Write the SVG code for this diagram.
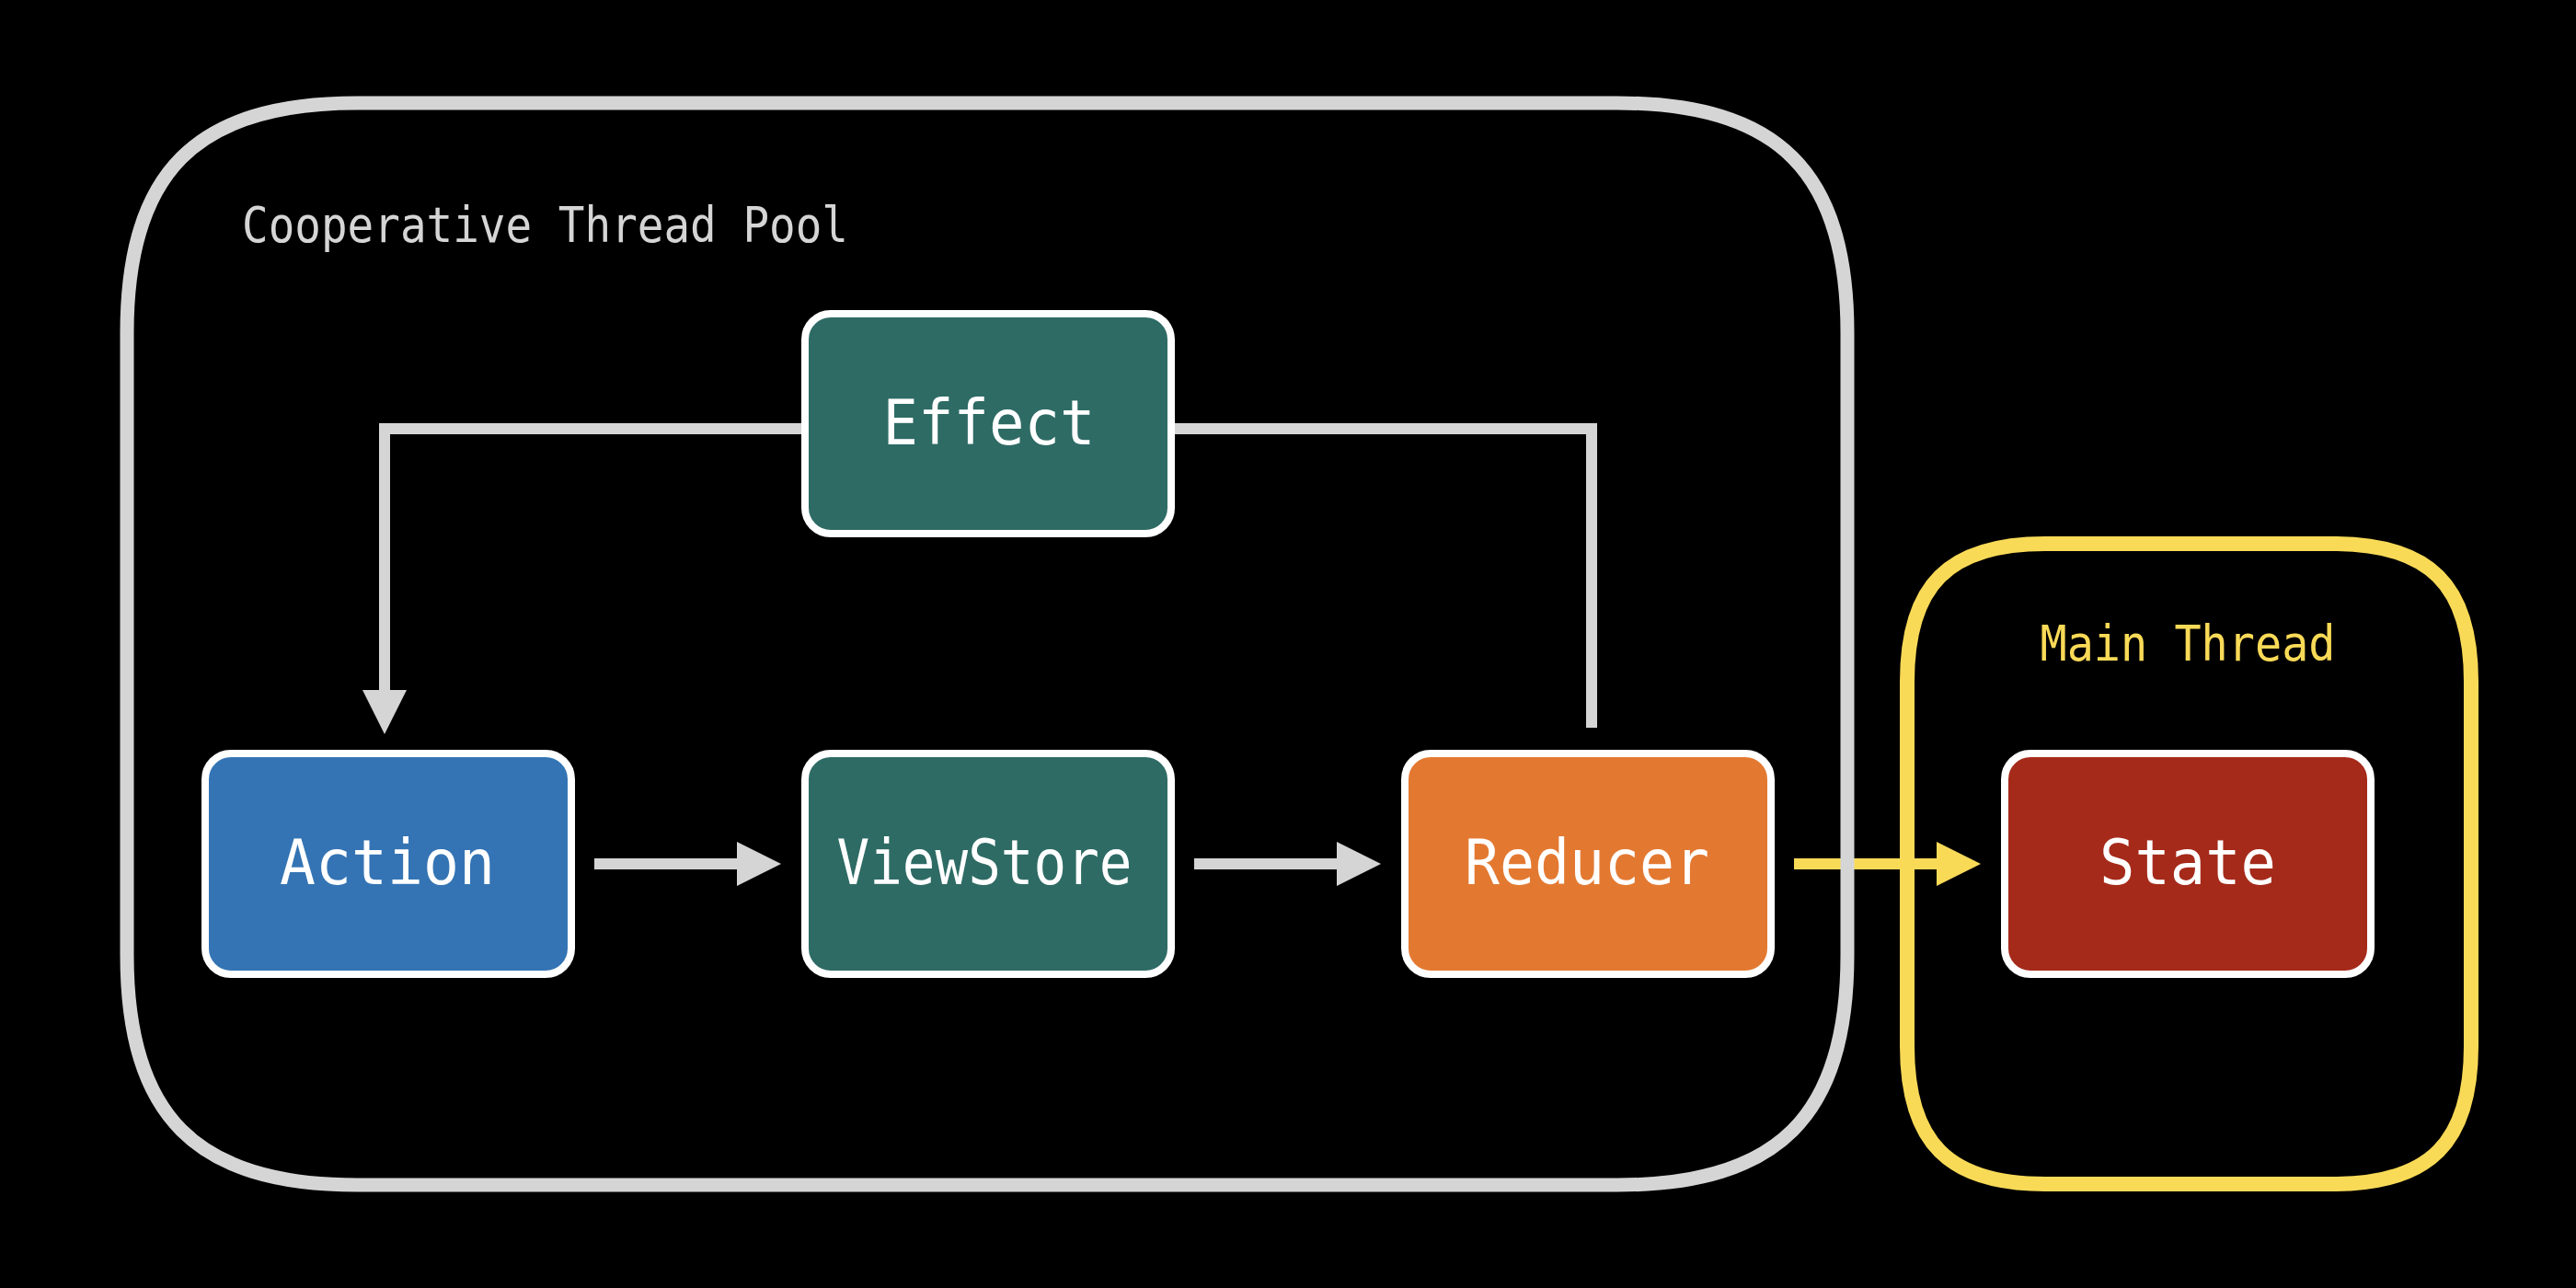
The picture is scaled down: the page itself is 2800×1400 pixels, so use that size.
<svg xmlns="http://www.w3.org/2000/svg" width="2800" height="1400" viewBox="0 0 2800 1400">
  <defs>
    <style>
      .node rect { stroke: #ffffff; stroke-width: 8; }
      .label { font-family: "DejaVu Sans Mono", "Liberation Mono", monospace; font-size: 68px; fill: #ffffff; text-anchor: middle; }
      .title { font-family: "DejaVu Sans Mono", "Liberation Mono", monospace; font-size: 53px; }
      .conn { fill: none; stroke: #d5d5d5; stroke-width: 12; stroke-linejoin: miter; stroke-linecap: butt; }
      .conn-y { fill: none; stroke: #f9da57; stroke-width: 12; stroke-linecap: butt; }
    </style>
    <marker id="arrow-gray" markerUnits="userSpaceOnUse" viewBox="0 0 48 48" refX="2" refY="24" markerWidth="48" markerHeight="48" orient="auto">
      <path d="M0,0 L48,24 L0,48 Z" fill="#d5d5d5"/>
    </marker>
    <marker id="arrow-yellow" markerUnits="userSpaceOnUse" viewBox="0 0 48 48" refX="2" refY="24" markerWidth="48" markerHeight="48" orient="auto">
      <path d="M0,0 L48,24 L0,48 Z" fill="#f9da57"/>
    </marker>
  </defs>
  <rect x="0" y="0" width="2800" height="1400" fill="#000000"/>

  <g id="connectors">
    <path class="conn" d="M875,466 H418 V752" marker-end="url(#arrow-gray)"/>
    <path class="conn" d="M1730,791 V466 H1273"/>
    <path class="conn" d="M646,939 H803" marker-end="url(#arrow-gray)"/>
    <path class="conn" d="M1298,939 H1455" marker-end="url(#arrow-gray)"/>
    <path class="conn-y" d="M1950,939 H2107" marker-end="url(#arrow-yellow)"/>
  </g>

  <g id="cooperative-thread-pool">
    <path d="M138,362 C138,187 213,112 388,112 H1758 C1933,112 2008,187 2008,362 V1038 C2008,1213 1933,1288 1758,1288 H388 C213,1288 138,1213 138,1038 Z" fill="none" stroke="#d5d5d5" stroke-width="15"/>
    <text class="title" x="263" y="263" fill="#d5d5d5" textLength="659" lengthAdjust="spacingAndGlyphs">Cooperative Thread Pool</text>
  </g>

  <g id="main-thread">
    <path d="M2073,741 C2073,636 2118,591 2223,591 H2536 C2641,591 2686,636 2686,741 V1137 C2686,1242 2641,1287 2536,1287 H2223 C2118,1287 2073,1242 2073,1137 Z" fill="none" stroke="#f9da57" stroke-width="16"/>
    <text class="title" x="2378" y="718" fill="#f9da57" text-anchor="middle" textLength="321" lengthAdjust="spacingAndGlyphs">Main Thread</text>
  </g>

  <g id="effect" class="node">
    <rect x="875" y="341" width="398" height="239" rx="28" fill="#2e6b65"/>
    <text class="label" x="1075" y="483" textLength="231" lengthAdjust="spacingAndGlyphs">Effect</text>
  </g>

  <g id="action" class="node">
    <rect x="223" y="819" width="398" height="240" rx="28" fill="#3474b4"/>
    <text class="label" x="421" y="961" textLength="234" lengthAdjust="spacingAndGlyphs">Action</text>
  </g>

  <g id="viewstore" class="node">
    <rect x="875" y="819" width="398" height="240" rx="28" fill="#2e6b65"/>
    <text class="label" x="1070" y="961" textLength="321" lengthAdjust="spacingAndGlyphs">ViewStore</text>
  </g>

  <g id="reducer" class="node">
    <rect x="1527" y="819" width="398" height="240" rx="28" fill="#e37931"/>
    <text class="label" x="1725" y="961" textLength="266" lengthAdjust="spacingAndGlyphs">Reducer</text>
  </g>

  <g id="state" class="node">
    <rect x="2179" y="819" width="398" height="240" rx="28" fill="#a52a1a"/>
    <text class="label" x="2378" y="961" textLength="192" lengthAdjust="spacingAndGlyphs">State</text>
  </g>
</svg>
